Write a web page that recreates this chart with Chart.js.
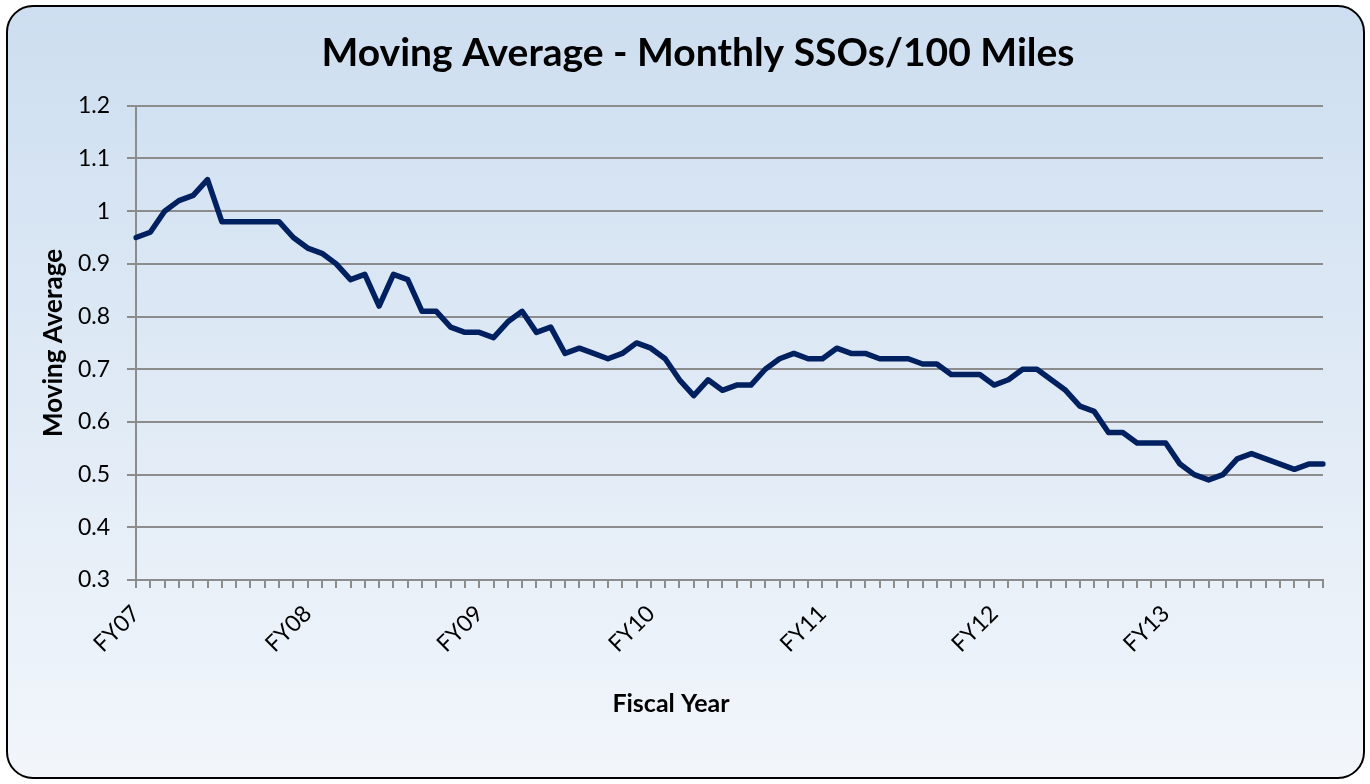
<!DOCTYPE html>
<html>
<head>
<meta charset="utf-8">
<script src="https://cdn.jsdelivr.net/npm/chart.js@4.4.1/dist/chart.umd.min.js"></script>
<style>
  html, body { margin: 0; padding: 0; background: #fff; }
  #wrap { width: 1370px; height: 784px; }
</style>
</head>
<body>
<div id="wrap"><canvas id="ssoChart" width="1370" height="784"></canvas></div>
<script>
// fiscal years shown on the axis, one label every 12 months
const fiscalYears = ["FY07", "FY08", "FY09", "FY10", "FY11", "FY12", "FY13"];
const monthsPerYear = 12;

// moving average of monthly SSOs per 100 miles
const movingAvg = [
    0.95, 0.96, 1.00, 1.02, 1.03, 1.06, 0.98, 0.98, 0.98, 0.98, 0.98, 0.95,
    0.93, 0.92, 0.90, 0.87, 0.88, 0.82, 0.88, 0.87, 0.81, 0.81, 0.78, 0.77,
    0.77, 0.76, 0.79, 0.81, 0.77, 0.78, 0.73, 0.74, 0.73, 0.72, 0.73, 0.75,
    0.74, 0.72, 0.68, 0.65, 0.68, 0.66, 0.67, 0.67, 0.70, 0.72, 0.73, 0.72,
    0.72, 0.74, 0.73, 0.73, 0.72, 0.72, 0.72, 0.71, 0.71, 0.69, 0.69, 0.69,
    0.67, 0.68, 0.70, 0.70, 0.68, 0.66, 0.63, 0.62, 0.58, 0.58, 0.56, 0.56,
    0.56, 0.52, 0.50, 0.49, 0.50, 0.53, 0.54, 0.53, 0.52, 0.51, 0.52, 0.52
];

const yMin = 0.3;
const yMax = 1.2;
const yStep = 0.1;

// one category per month, year label on the first month of each year
const labels = [];
fiscalYears.forEach(fy => {
    for (let m = 0; m < monthsPerYear; m++) labels.push(m === 0 ? fy : "");
});

const gridGray = "#8c8c8c";
const fontFamily = "Lato, 'Open Sans', sans-serif";

// rounded panel with a soft blue gradient behind the whole chart
const panelBg = {
    id: "panelBg",
    beforeDraw(chart) {
        const c = chart.ctx;
        const x = 7, y = 6, w = 1357, h = 772, r = 26;
        c.save();
        const g = c.createLinearGradient(0, y, 0, y + h);
        g.addColorStop(0, "#cddef0");
        g.addColorStop(1, "#f2f6fb");
        c.beginPath();
        c.roundRect(x, y, w, h, r);
        c.fillStyle = g;
        c.fill();
        c.lineWidth = 2;
        c.strokeStyle = "#000";
        c.stroke();
        c.restore();
    }
};

// x axis title sits left of the plot centre in the original, so draw it here
const xAxisTitle = {
    id: "xAxisTitle",
    afterDraw(chart) {
        const c = chart.ctx;
        c.save();
        c.font = "bold 25px " + fontFamily;
        c.fillStyle = "#000";
        c.textAlign = "center";
        c.textBaseline = "middle";
        c.fillText("Fiscal Year", 671, 704);
        c.restore();
    }
};

const ctx = document.getElementById("ssoChart").getContext("2d");
const chart = new Chart(ctx, {
    type: "line",
    data: {
        labels: labels,
        datasets: [{
            label: "Moving Average",
            data: movingAvg,
            borderColor: "#002060",
            borderWidth: 5.5,
            pointRadius: 0,
            tension: 0,
            borderJoinStyle: "round",
            borderCapStyle: "round",
            fill: false
        }]
    },
    options: {
        responsive: false,
        animation: false,
        layout: {
            // left padding is wide so the title centres where the original does
            padding: { left: 73, right: 47, top: 10, bottom: 61 }
        },
        plugins: {
            legend: { display: false },
            tooltip: { enabled: false },
            title: {
                display: true,
                text: "Moving Average - Monthly SSOs/100 Miles",
                color: "#000",
                font: { family: fontFamily, size: 39, weight: "bold" },
                padding: { top: 20, bottom: 29 }
            }
        },
        scales: {
            x: {
                grid: {
                    drawOnChartArea: false,
                    drawTicks: true,
                    tickLength: 8,
                    color: gridGray,
                    lineWidth: 2
                },
                border: { display: true, color: gridGray, width: 2 },
                ticks: {
                    autoSkip: false,
                    maxRotation: 45,
                    minRotation: 45,
                    padding: 12,
                    color: "#000",
                    font: { family: fontFamily, size: 23 }
                },
                title: { display: false },
                afterFit(scale) { scale.height = 143; }
            },
            y: {
                min: yMin,
                max: yMax,
                grid: { color: gridGray, lineWidth: 2, tickLength: 9 },
                border: { display: true, color: gridGray, width: 2 },
                ticks: {
                    stepSize: yStep,
                    padding: 17,
                    color: "#000",
                    font: { family: fontFamily, size: 23 },
                    callback: v => String(+v.toFixed(1))
                },
                title: {
                    display: true,
                    text: "Moving Average",
                    color: "#000",
                    font: { family: fontFamily, size: 26, weight: "bold" },
                    // pull the axis title back out to the left edge
                    padding: { top: -35, bottom: 4 }
                },
                afterFit(scale) { scale.width = 63; }
            }
        }
    },
    plugins: [panelBg, xAxisTitle]
});
</script>
</body>
</html>
